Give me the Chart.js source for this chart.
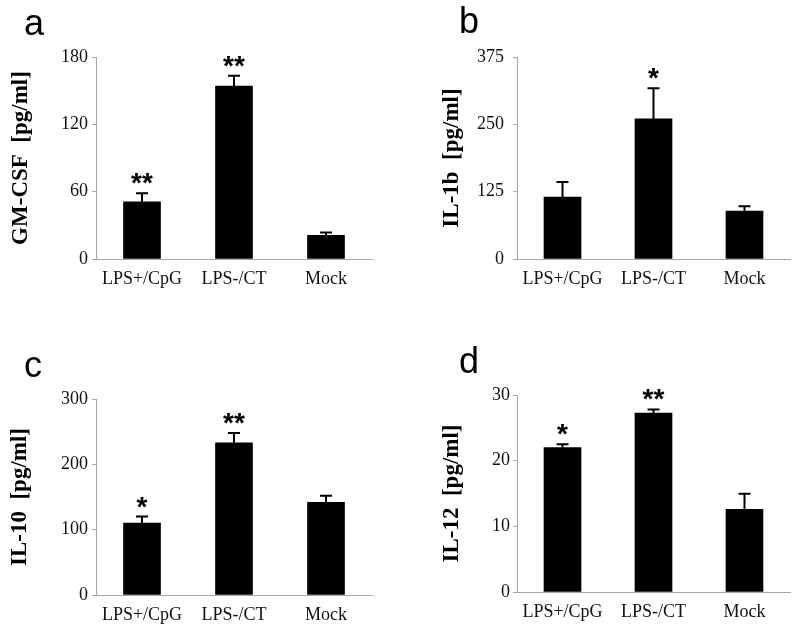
<!DOCTYPE html>
<html lang="en">
<head>
    <meta charset="UTF-8">
    <title>Cytokine levels</title>
    <style>
        body {
            margin: 0;
            background-color: white;
        }
        #figure {
            position: relative;
            width: 800px;
            height: 632px;
            background: white;
        }
        canvas {
            position: absolute;
        }
    </style>
</head>
<body>
    <div id="figure">
        <canvas id="panelA" width="400" height="300" style="left:0;top:0"></canvas>
        <canvas id="panelB" width="400" height="300" style="left:400px;top:0"></canvas>
        <canvas id="panelC" width="400" height="332" style="left:0;top:300px"></canvas>
        <canvas id="panelD" width="400" height="332" style="left:400px;top:300px"></canvas>
    </div>

    <script src="https://cdn.jsdelivr.net/npm/chart.js"></script>
    <script>
        // groups on the x axis (same for every panel)
        const categories = ['LPS+/CpG', 'LPS-/CT', 'Mock'];

        // a: GM-CSF
        const gmcsfMeans = [51, 154, 21];
        const gmcsfErrors = [7.6, 9.3, 2.7];
        const gmcsfStars = ['**', '**', ''];
        const gmcsfTicks = [0, 60, 120, 180];

        // b: IL-1b
        const il1bMeans = [115, 260, 89];
        const il1bErrors = [28, 57, 9];
        const il1bStars = ['', '*', ''];
        const il1bTicks = [0, 125, 250, 375];

        // c: IL-10
        const il10Means = [110, 233, 142];
        const il10Errors = [10, 15, 10];
        const il10Stars = ['*', '**', ''];
        const il10Ticks = [0, 100, 200, 300];

        // d: IL-12
        const il12Means = [22.0, 27.25, 12.6];
        const il12Errors = [0.5, 0.55, 2.35];
        const il12Stars = ['*', '**', ''];
        const il12Ticks = [0, 10, 20, 30];

        const serif = '"Liberation Serif", "Times New Roman", serif';
        const sans = '"Liberation Sans", Arial, sans-serif';
        const axisGray = '#a6a6a6';

        // error bars (upper only), significance stars and the panel letter
        const decorations = {
            id: 'decorations',
            afterDatasetsDraw(chart, args, opts) {
                const ctx = chart.ctx;
                const meta = chart.getDatasetMeta(0);
                const yScale = chart.scales.y;
                ctx.save();
                meta.data.forEach((bar, i) => {
                    const top = yScale.getPixelForValue(opts.means[i] + opts.errors[i]);
                    ctx.strokeStyle = '#000';
                    ctx.lineWidth = 2;
                    ctx.beginPath();
                    ctx.moveTo(bar.x, bar.y);
                    ctx.lineTo(bar.x, top);
                    ctx.moveTo(bar.x - 6, top);
                    ctx.lineTo(bar.x + 6, top);
                    ctx.stroke();

                    if (opts.stars[i]) {
                        ctx.fillStyle = '#000';
                        ctx.font = 'bold 28px ' + sans;
                        ctx.textAlign = 'center';
                        ctx.textBaseline = 'alphabetic';
                        ctx.fillText(opts.stars[i], bar.x, top - 17 + 16);
                    }
                });
                ctx.fillStyle = '#000';
                ctx.font = '36px ' + sans;
                ctx.textAlign = 'left';
                ctx.textBaseline = 'alphabetic';
                ctx.fillText(opts.letter, opts.letterX, opts.letterY);
                ctx.restore();
            }
        };

        function makePanel(id, means, errors, stars, ticks, p) {
            const ctx = document.getElementById(id).getContext('2d');
            return new Chart(ctx, {
                type: 'bar',
                data: {
                    labels: categories,
                    datasets: [{
                        data: means,
                        backgroundColor: '#000',
                        borderWidth: 0,
                        barThickness: 37
                    }]
                },
                options: {
                    responsive: false,
                    animation: false,
                    devicePixelRatio: 1,
                    layout: {
                        padding: { left: 0, top: p.top, right: p.right, bottom: 0 }
                    },
                    plugins: {
                        legend: { display: false },
                        tooltip: { enabled: false },
                        decorations: {
                            means: means,
                            errors: errors,
                            stars: stars,
                            letter: p.letter,
                            letterX: p.letterX,
                            letterY: p.letterY
                        }
                    },
                    scales: {
                        x: {
                            grid: { display: false, drawTicks: false },
                            border: { color: axisGray, width: 1 },
                            ticks: {
                                color: '#111',
                                font: { family: serif, size: 18 },
                                padding: 9,
                                maxRotation: 0
                            },
                            afterFit: s => { s.height = p.xHeight; }
                        },
                        y: {
                            min: ticks[0],
                            max: ticks[ticks.length - 1],
                            afterBuildTicks: s => { s.ticks = ticks.map(v => ({ value: v })); },
                            grid: {
                                drawOnChartArea: false,
                                color: axisGray,
                                tickLength: 4
                            },
                            border: { color: axisGray, width: 1 },
                            ticks: {
                                color: '#111',
                                font: { family: serif, size: 18 },
                                padding: p.tickPad
                            },
                            title: {
                                display: true,
                                text: p.title,
                                color: '#000',
                                font: { family: serif, size: 23, weight: 'bold', lineHeight: 1 },
                                padding: { top: p.titlePad, bottom: 0 }
                            },
                            afterFit: s => { s.width = p.yWidth; }
                        }
                    }
                },
                plugins: [decorations]
            });
        }

        makePanel('panelA', gmcsfMeans, gmcsfErrors, gmcsfStars, gmcsfTicks, {
            title: 'GM-CSF  [pg/ml]', letter: 'a', letterX: 24, letterY: 35,
            top: 57, right: 28, xHeight: 41, yWidth: 96, tickPad: 4, titlePad: 9.5
        });
        makePanel('panelB', il1bMeans, il1bErrors, il1bStars, il1bTicks, {
            title: 'IL-1b  [pg/ml]', letter: 'b', letterX: 59, letterY: 33,
            top: 57, right: 10, xHeight: 41, yWidth: 117, tickPad: 9, titlePad: 41
        });
        makePanel('panelC', il10Means, il10Errors, il10Stars, il10Ticks, {
            title: 'IL-10  [pg/ml]', letter: 'c', letterX: 24, letterY: 77,
            top: 99, right: 28, xHeight: 37, yWidth: 96, tickPad: 4, titlePad: 8.5
        });
        makePanel('panelD', il12Means, il12Errors, il12Stars, il12Ticks, {
            title: 'IL-12  [pg/ml]', letter: 'd', letterX: 59, letterY: 73,
            top: 95, right: 10, xHeight: 40, yWidth: 117, tickPad: 3, titlePad: 41
        });
    </script>
</body>
</html>
